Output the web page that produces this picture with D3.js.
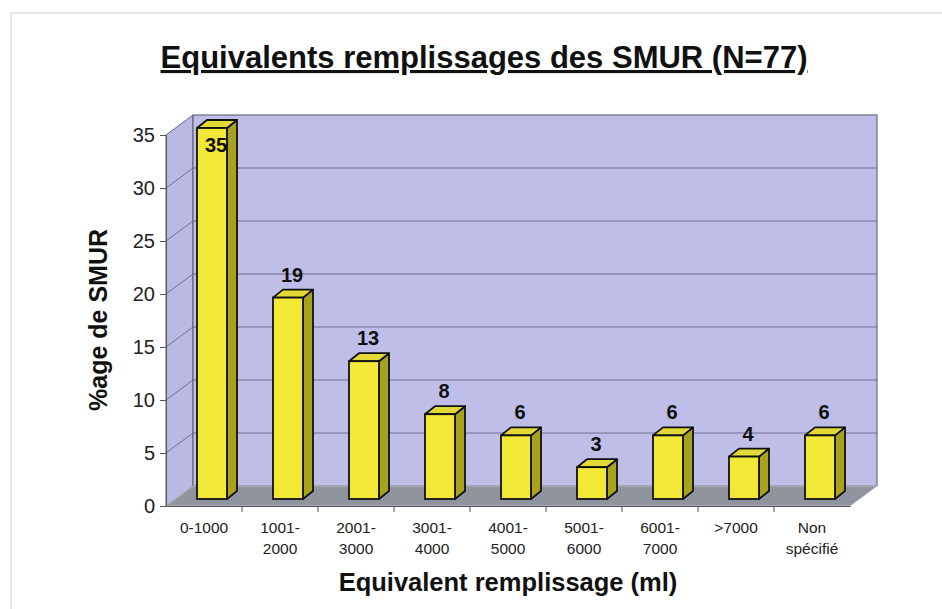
<!DOCTYPE html>
<html lang="fr">
<head>
    <meta charset="UTF-8">
    <title>Equivalents remplissages des SMUR</title>
    <script src="https://d3js.org/d3.v7.min.js"></script>
    <style>
        body { margin: 0; background: #fff; }
        text { font-family: "Liberation Sans", Arial, sans-serif; }
    </style>
</head>
<body>
    <script>
        const categories = ["0-1000", "1001-2000", "2001-3000", "3001-4000", "4001-5000",
                            "5001-6000", "6001-7000", ">7000", "Non spécifié"];
        const values = [35, 19, 13, 8, 6, 3, 6, 4, 6];
        const yTicks = [0, 5, 10, 15, 20, 25, 30, 35];

        const w = 942;
        const h = 609;

        // 3d offsets (back wall depth, bar position in depth)
        const depthX = 27, depthY = -20;
        const barX = 8, barY = -7;
        const sideX = 10, sideY = -8;
        const barW = 30;

        const xScale = d3.scaleBand()
                        .domain(categories)
                        .range([166, 850]);

        const yScale = d3.scaleLinear()
                        .domain([0, 35])
                        .range([506, 135]);

        const svg = d3.select("body")
            .append("svg")
            .attr("width", w)
            .attr("height", h);

        // outer frame
        svg.append("rect")
            .attr("x", 11).attr("y", 13)
            .attr("width", w + 10).attr("height", h)
            .attr("fill", "none")
            .attr("stroke", "#cfcfcf");

        const x0 = xScale.range()[0], x1 = xScale.range()[1];
        const yTop = yScale(35), yBot = yScale(0);

        // left side wall
        svg.append("polygon")
            .attr("points", [[x0, yTop], [x0 + depthX, yTop + depthY], [x0 + depthX, yBot + depthY], [x0, yBot]].join(" "))
            .attr("fill", "#b9b9e4")
            .attr("stroke", "#6a6a80");

        // back wall
        svg.append("rect")
            .attr("x", x0 + depthX).attr("y", yTop + depthY)
            .attr("width", x1 - x0).attr("height", yBot - yTop)
            .attr("fill", "#bebee9")
            .attr("stroke", "#55556a");

        // grid lines
        const grid = yTicks.filter(t => t > 0 && t < 35);
        svg.selectAll(".gback")
            .data(grid)
            .enter()
            .append("line")
            .attr("x1", x0 + depthX).attr("x2", x1 + depthX)
            .attr("y1", d => yScale(d) + depthY).attr("y2", d => yScale(d) + depthY)
            .attr("stroke", "#5c5c78").attr("stroke-width", 0.8);
        svg.selectAll(".gside")
            .data(grid)
            .enter()
            .append("line")
            .attr("x1", x0).attr("x2", x0 + depthX)
            .attr("y1", d => yScale(d)).attr("y2", d => yScale(d) + depthY)
            .attr("stroke", "#5c5c78").attr("stroke-width", 0.8);

        // floor
        svg.append("polygon")
            .attr("points", [[x0, yBot], [x0 + depthX, yBot + depthY], [x1 + depthX, yBot + depthY], [x1, yBot]].join(" "))
            .attr("fill", "#8f949e")
            .attr("stroke", "#b8bcc4");

        // bars
        const bars = svg.selectAll(".bar")
            .data(values)
            .enter()
            .append("g");

        const left = (d, i) => xScale(categories[i]) + xScale.bandwidth() / 2 + barX - barW / 2;

        bars.append("polygon")
            .attr("points", (d, i) => {
                const l = left(d, i), t = yScale(d) + barY, b = yScale(0) + barY;
                return [[l + barW, t], [l + barW + sideX, t + sideY], [l + barW + sideX, b + sideY], [l + barW, b]].join(" ");
            })
            .attr("fill", "#a9a220")
            .attr("stroke", "#111").attr("stroke-width", 1.8).attr("stroke-linejoin", "round");

        bars.append("polygon")
            .attr("points", (d, i) => {
                const l = left(d, i), t = yScale(d) + barY;
                return [[l, t], [l + sideX, t + sideY], [l + barW + sideX, t + sideY], [l + barW, t]].join(" ");
            })
            .attr("fill", "#e2d838")
            .attr("stroke", "#111").attr("stroke-width", 1.8).attr("stroke-linejoin", "round");

        bars.append("rect")
            .attr("x", (d, i) => left(d, i))
            .attr("y", d => yScale(d) + barY)
            .attr("width", barW)
            .attr("height", d => yScale(0) - yScale(d))
            .attr("fill", "#f2e838")
            .attr("stroke", "#111").attr("stroke-width", 1.8);

        // value labels
        bars.append("text")
            .attr("x", (d, i) => left(d, i) + barW / 2 + 4)
            .attr("y", d => d === 35 ? yScale(d) + barY + 24 : yScale(d) + barY - 16)
            .attr("text-anchor", "middle")
            .attr("font-size", 20)
            .attr("font-weight", "bold")
            .attr("fill", "#111")
            .text(d => d);

        // axes
        const yAxis = d3.axisLeft(yScale).tickValues(yTicks).tickSize(6).tickPadding(5);
        const gy = svg.append("g")
            .attr("transform", "translate(" + x0 + ",0)")
            .call(yAxis);
        gy.selectAll("text").attr("font-size", 20).attr("fill", "#222").attr("font-family", null);
        gy.selectAll("line, path").attr("stroke", "#555");

        const xAxis = d3.axisBottom(xScale).tickSize(0).tickPadding(14);
        const gx = svg.append("g")
            .attr("transform", "translate(0," + yBot + ")")
            .call(xAxis);
        gx.select("path").attr("stroke", "#555");
        gx.selectAll("text").remove();
        gx.selectAll(".tick").append("text")
            .attr("text-anchor", "middle")
            .attr("font-size", 15.5)
            .attr("fill", "#222")
            .attr("y", 27)
            .each(function(d) {
                const parts = d === "Non spécifié" ? ["Non", "spécifié"]
                            : !d.includes("-") || d === "0-1000" ? [d]
                            : [d.split("-")[0] + "-", d.split("-")[1]];
                parts.forEach((p, k) => {
                    d3.select(this).append("tspan").attr("x", 0).attr("dy", k ? 21 : 0).text(p);
                });
            });
        // ticks between categories
        svg.selectAll(".xt")
            .data(categories.slice(1))
            .enter()
            .append("line")
            .attr("x1", d => xScale(d)).attr("x2", d => xScale(d))
            .attr("y1", yBot).attr("y2", yBot + 6)
            .attr("stroke", "#555");

        // titles
        svg.append("text")
            .attr("x", 484).attr("y", 68)
            .attr("text-anchor", "middle")
            .attr("font-size", 31)
            .attr("font-weight", "bold")
            .attr("text-decoration", "underline")
            .attr("fill", "#111")
            .text("Equivalents remplissages des SMUR (N=77)");

        svg.append("text")
            .attr("transform", "translate(107,320) rotate(-90)")
            .attr("text-anchor", "middle")
            .attr("font-size", 25)
            .attr("font-weight", "bold")
            .attr("fill", "#111")
            .text("%age de SMUR");

        svg.append("text")
            .attr("x", 508).attr("y", 591)
            .attr("text-anchor", "middle")
            .attr("font-size", 25.5)
            .attr("font-weight", "bold")
            .attr("fill", "#111")
            .text("Equivalent remplissage (ml)");
    </script>
</body>
</html>
